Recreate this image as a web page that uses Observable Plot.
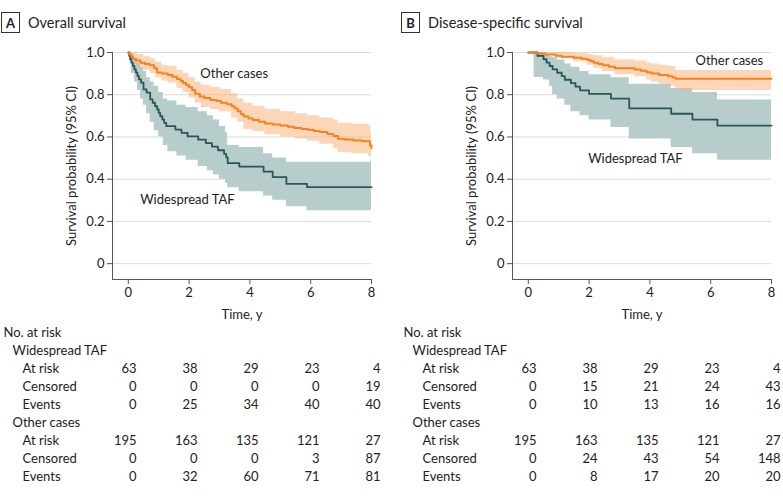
<!DOCTYPE html>
<html><head><meta charset="utf-8">
<script src="https://cdn.jsdelivr.net/npm/d3@7"></script>
<script src="https://cdn.jsdelivr.net/npm/@observablehq/plot@0.6"></script>
<style>
body{margin:0;background:#fff;font-family:Lato,"Open Sans",sans-serif;color:#222}
#root{position:relative;width:783px;height:496px;overflow:hidden}
.panel{position:absolute;top:0;width:383px;height:496px}
.hdr{position:absolute;top:12px;left:1px;display:flex;align-items:center;font-size:14.5px;height:21px}
.box{box-sizing:border-box;width:19px;height:21px;border:1px solid #333;display:flex;align-items:center;justify-content:center;font-weight:bold;font-size:13px;margin-right:8px}
</style></head><body><div id="root"></div>
<script>
// ---------- data ----------
const xTicks = [0, 2, 4, 6, 8];
const yTicks = [0, 0.2, 0.4, 0.6, 0.8, 1.0];

// Overall survival - Other cases
const osOthT = [0,0.05,0.1,0.15,0.25,0.4,0.55,0.7,0.85,0.95,1.1,1.3,1.45,1.6,1.72,1.8,1.9,2.0,2.1,2.2,2.35,2.5,2.7,2.9,3.05,3.25,3.4,3.5,3.6,3.7,3.8,3.95,4.1,4.3,4.5,4.75,5.0,5.25,5.45,5.7,5.9,6.1,6.3,6.55,6.75,6.9,7.1,7.4,7.7,7.95,8.0];
const osOthS = [1.0,0.99,0.98,0.97,0.962,0.952,0.946,0.94,0.925,0.905,0.9,0.893,0.885,0.875,0.865,0.855,0.845,0.836,0.822,0.805,0.792,0.785,0.775,0.77,0.762,0.755,0.745,0.735,0.722,0.708,0.697,0.688,0.68,0.672,0.664,0.659,0.654,0.648,0.643,0.638,0.634,0.628,0.623,0.614,0.605,0.592,0.588,0.583,0.58,0.56,0.548];
const osOthBandT  = [0,0.1,0.3,0.5,0.72,0.9,1.1,1.3,1.6,1.8,2.0,2.2,2.4,2.7,3.0,3.4,3.6,3.8,4.1,4.5,5.0,5.5,5.9,6.3,6.75,6.9,7.4,7.9,7.98,8.0];
const osOthBandLo = [1.0,0.96,0.93,0.915,0.9,0.88,0.865,0.855,0.83,0.81,0.785,0.76,0.74,0.73,0.72,0.69,0.67,0.635,0.625,0.61,0.6,0.59,0.58,0.565,0.545,0.525,0.52,0.51,0.47,0.47];
const osOthBandHi = [1.0,1.0,0.99,0.98,0.97,0.955,0.94,0.935,0.915,0.9,0.88,0.86,0.845,0.835,0.825,0.805,0.78,0.76,0.745,0.73,0.72,0.71,0.7,0.69,0.68,0.665,0.66,0.655,0.625,0.625];

// Overall survival - Widespread TAF
const osTafT = [0,0.03,0.06,0.1,0.15,0.2,0.25,0.3,0.35,0.42,0.5,0.6,0.72,0.8,0.88,0.95,1.0,1.05,1.12,1.18,1.25,1.55,1.75,1.95,2.3,2.55,2.75,2.95,3.15,3.22,3.27,3.65,4.45,4.75,5.2,5.88,8.0];
const osTafS = [1.0,0.984,0.968,0.952,0.936,0.92,0.905,0.889,0.873,0.857,0.825,0.81,0.778,0.762,0.746,0.73,0.714,0.698,0.683,0.667,0.651,0.635,0.619,0.603,0.587,0.571,0.554,0.537,0.52,0.503,0.476,0.46,0.436,0.41,0.378,0.362,0.362];
const osTafBandT  = [0,0.1,0.2,0.3,0.4,0.5,0.6,0.72,0.85,1.0,1.15,1.3,1.6,1.9,2.3,2.6,2.8,3.0,3.2,3.27,3.65,4.45,4.75,5.2,5.88,8.0];
const osTafBandLo = [1.0,0.9,0.86,0.82,0.78,0.75,0.71,0.67,0.63,0.6,0.56,0.53,0.51,0.49,0.46,0.44,0.42,0.4,0.38,0.36,0.34,0.32,0.3,0.27,0.25,0.25];
const osTafBandHi = [1.0,0.99,0.97,0.95,0.93,0.91,0.88,0.86,0.84,0.81,0.78,0.77,0.75,0.74,0.72,0.7,0.68,0.65,0.62,0.56,0.55,0.52,0.5,0.48,0.48,0.48];

// Disease-specific survival - Other cases
const dsOthT = [0,0.3,0.55,0.9,1.1,1.5,1.75,1.95,2.05,2.15,2.3,2.45,2.65,2.85,3.5,3.7,3.9,4.05,4.3,4.6,4.75,4.85,8.0];
const dsOthS = [1.0,0.995,0.99,0.985,0.98,0.975,0.97,0.964,0.958,0.952,0.946,0.94,0.932,0.926,0.92,0.914,0.907,0.9,0.894,0.888,0.882,0.876,0.876];
const dsOthBandT  = [0,0.3,0.9,1.5,1.95,2.15,2.45,2.85,3.5,3.9,4.05,4.3,4.6,4.85,8.0];
const dsOthBandLo = [1.0,0.985,0.97,0.955,0.94,0.925,0.91,0.895,0.885,0.87,0.86,0.85,0.84,0.82,0.82];
const dsOthBandHi = [1.0,1.0,1.0,0.995,0.99,0.985,0.975,0.965,0.96,0.95,0.945,0.94,0.935,0.915,0.915];

// Disease-specific survival - Widespread TAF
const dsTafT = [0,0.3,0.5,0.6,0.7,0.8,0.95,1.1,1.2,1.4,1.55,1.7,2.0,2.72,3.32,4.7,5.4,6.22,8.0];
const dsTafS = [1.0,0.984,0.968,0.952,0.936,0.92,0.904,0.888,0.871,0.855,0.838,0.821,0.804,0.782,0.735,0.71,0.682,0.654,0.654];
const dsTafBandT  = [0,0.19,0.5,0.7,0.8,0.95,1.2,1.4,1.7,2.0,2.72,3.32,4.7,5.4,6.22,8.0];
const dsTafBandLo = [1.0,0.882,0.87,0.84,0.8,0.78,0.75,0.72,0.7,0.68,0.645,0.59,0.55,0.52,0.49,0.49];
const dsTafBandHi = [1.0,1.0,0.99,0.98,0.975,0.965,0.945,0.93,0.91,0.895,0.88,0.85,0.83,0.81,0.775,0.775];

// Number at risk tables
const riskTimes = [0, 2, 4, 6, 8];
const osTafAtRisk = [63,38,29,23,4];
const osTafCensored = [0,0,0,0,19];
const osTafEvents = [0,25,34,40,40];
const osOthAtRisk = [195,163,135,121,27];
const osOthCensored = [0,0,0,3,87];
const osOthEvents = [0,32,60,71,81];
const dsTafAtRisk = [63,38,29,23,4];
const dsTafCensored = [0,15,21,24,43];
const dsTafEvents = [0,10,13,16,16];
const dsOthAtRisk = [195,163,135,121,27];
const dsOthCensored = [0,24,43,54,148];
const dsOthEvents = [0,8,17,20,20];

const groupNames = ["Widespread TAF", "Other cases"];
const rowNames = ["At risk", "Censored", "Events"];

// ---------- helpers ----------
const ORANGE = "#f5821f", ORANGE_BAND = "#fcb57c";
const TEAL = "#2c5655", TEAL_BAND = "#b6cdcc";
const zipLine = (t, s) => t.map((d, i) => ({t: d, s: s[i]}));
const zipBand = (t, lo, hi) => t.map((d, i) => ({t: d, lo: lo[i], hi: hi[i]}));
const FONT = "Lato, 'Open Sans', sans-serif";

function chart(cfg) {
  return Plot.plot({
    width: 383, height: 285,
    marginTop: 12, marginBottom: 46, marginLeft: 112, marginRight: 12,
    x: {domain: [-0.52, 8]},
    y: {domain: [-0.075, 1]},
    style: {fontFamily: FONT, fontSize: "13px", color: "#222", overflow: "visible"},
    marks: [
      Plot.gridY(yTicks, {stroke: "#dcdcdc", strokeOpacity: 1}),
      Plot.areaY(cfg.tafBand, {x: "t", y1: "lo", y2: "hi", curve: "step-after", fill: TEAL_BAND}),
      Plot.areaY(cfg.othBand, {x: "t", y1: "lo", y2: "hi", curve: "step-after", fill: ORANGE_BAND, fillOpacity: 0.55}),
      Plot.line(cfg.taf, {x: "t", y: "s", curve: "step-after", stroke: TEAL, strokeWidth: 1.8}),
      Plot.line(cfg.oth, {x: "t", y: "s", curve: "step-after", stroke: ORANGE, strokeWidth: 2}),
      Plot.ruleX([-0.52], {stroke: "#555"}),
      Plot.ruleY([-0.075], {stroke: "#555"}),
      Plot.axisY({ticks: yTicks, tickFormat: d => d === 0 ? "0" : d.toFixed(1), tickSize: 5, tickPadding: 3,
        stroke: "#555", label: "Survival probability (95% CI)", labelAnchor: "center", labelArrow: "none", labelOffset: 46}),
      Plot.axisX({ticks: xTicks, tickSize: 5, tickPadding: 3, stroke: "#555",
        label: "Time, y", labelAnchor: "center", labelArrow: "none", labelOffset: 39}),
      Plot.text(cfg.labels, {x: "t", y: "s", text: "text", textAnchor: "start", fill: "#222", fontSize: 13})
    ]
  });
}

function table(g1, g2) {
  const rows = ["head", "g1", "g1r0", "g1r1", "g1r2", "g2", "g2r0", "g2r1", "g2r2"];
  const heads = [{row: "head", text: "No. at risk"}];
  const groups = [{row: "g1", text: groupNames[0]}, {row: "g2", text: groupNames[1]}];
  const subs = [...rowNames.map((r, i) => ({row: "g1r" + i, text: r})), ...rowNames.map((r, i) => ({row: "g2r" + i, text: r}))];
  const cells = [];
  [g1, g2].forEach((g, gi) => g.forEach((arr, ri) => arr.forEach((v, k) =>
    cells.push({row: "g" + (gi + 1) + "r" + ri, t: riskTimes[k], v}))));
  return Plot.plot({
    width: 383, height: 170,
    marginTop: 12, marginBottom: 14, marginLeft: 0, marginRight: 0,
    x: {domain: [0, 8], range: [136, 380], axis: null},
    y: {type: "point", domain: rows, padding: 0, axis: null},
    style: {fontFamily: FONT, fontSize: "13px", color: "#222", overflow: "visible"},
    marks: [
      Plot.text(heads, {y: "row", text: "text", frameAnchor: "left", dx: 3, textAnchor: "start", fill: "#222"}),
      Plot.text(groups, {y: "row", text: "text", frameAnchor: "left", dx: 12, textAnchor: "start", fill: "#222"}),
      Plot.text(subs, {y: "row", text: "text", frameAnchor: "left", dx: 22, textAnchor: "start", fill: "#222"}),
      Plot.text(cells, {x: "t", y: "row", text: d => String(d.v), textAnchor: "end", fill: "#222"})
    ]
  });
}

function panel(left, letter, title, cfg, g1, g2) {
  const p = document.createElement("div");
  p.className = "panel"; p.style.left = left + "px";
  const h = document.createElement("div"); h.className = "hdr";
  h.innerHTML = `<div class="box">${letter}</div><div>${title}</div>`;
  p.appendChild(h);
  const c = chart(cfg); c.style.position = "absolute"; c.style.top = "40px"; c.style.left = "0";
  p.appendChild(c);
  const t = table(g1, g2); t.style.position = "absolute"; t.style.top = "320px"; t.style.left = "0";
  p.appendChild(t);
  document.getElementById("root").appendChild(p);
}

panel(0, "A", "Overall survival", {
  oth: zipLine(osOthT, osOthS), taf: zipLine(osTafT, osTafS),
  othBand: zipBand(osOthBandT, osOthBandLo, osOthBandHi), tafBand: zipBand(osTafBandT, osTafBandLo, osTafBandHi),
  labels: [{t: 2.37, s: 0.9, text: "Other cases"}, {t: 0.39, s: 0.303, text: "Widespread TAF"}]
}, [osTafAtRisk, osTafCensored, osTafEvents], [osOthAtRisk, osOthCensored, osOthEvents]);

panel(400, "B", "Disease-specific survival", {
  oth: zipLine(dsOthT, dsOthS), taf: zipLine(dsTafT, dsTafS),
  othBand: zipBand(dsOthBandT, dsOthBandLo, dsOthBandHi), tafBand: zipBand(dsTafBandT, dsTafBandLo, dsTafBandHi),
  labels: [{t: 5.5, s: 0.959, text: "Other cases"}, {t: 1.97, s: 0.498, text: "Widespread TAF"}]
}, [dsTafAtRisk, dsTafCensored, dsTafEvents], [dsOthAtRisk, dsOthCensored, dsOthEvents]);
</script></body></html>
